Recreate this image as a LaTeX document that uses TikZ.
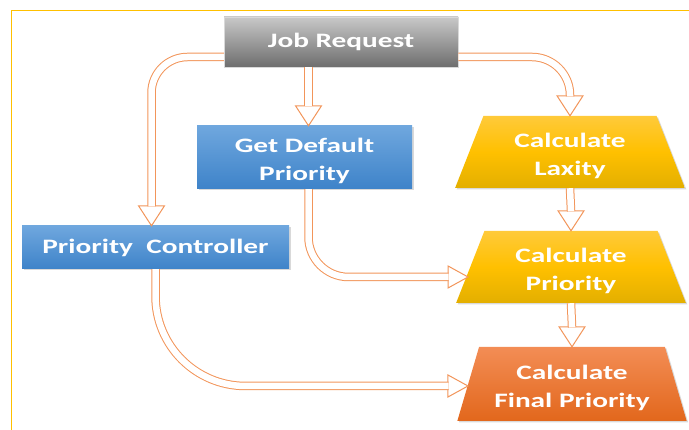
\documentclass[tikz,border=0pt]{standalone}
\usepackage{fontspec}
\setmainfont{Carlito}[FakeStretch=1.43]
\usetikzlibrary{shapes.geometric,shadows}
\definecolor{pipeorange}{HTML}{F2955A}
\definecolor{frameyellow}{HTML}{FFC000}
\definecolor{jobtop}{HTML}{C8C8C8}
\definecolor{jobbot}{HTML}{6E6E6E}
\definecolor{bluetop}{HTML}{6FA7DE}
\definecolor{bluebot}{HTML}{3E83C9}
\definecolor{yeltop}{HTML}{FFCA3A}
\definecolor{yelmid}{HTML}{FFC000}
\definecolor{yelbot}{HTML}{E3AF00}
\definecolor{orgtop}{HTML}{F38D55}
\definecolor{orgbot}{HTML}{E2671C}

\begin{document}
\begin{tikzpicture}[x=1pt,y=1pt,
		boxtext/.style={text=white,font=\fontsize{20.5}{28}\selectfont\bfseries,align=center,inner sep=0pt},
		lowtext/.style={text height=49.5pt},
		dropshade/.style={drop shadow={shadow xshift=1.5pt,shadow yshift=-1.5pt,opacity=0.3}},
		greybox/.style={boxtext,rectangle,top color=jobtop,bottom color=jobbot,draw=black!15,line width=0.5pt},
		bluebox/.style={boxtext,dropshade,rectangle,top color=bluetop,bottom color=bluebot},
		calcbox/.style={boxtext,lowtext,dropshade,trapezium,trapezium stretches=true,trapezium left angle=71,trapezium right angle=71,minimum width=230pt},
		yellowfill/.style={top color=yeltop,bottom color=yelbot,middle color=yelmid},
		orangefill/.style={top color=orgtop,bottom color=orgbot},
		pipe/.style={draw=pipeorange,line width=1pt,double=white,double distance=6.5pt,shorten >=-0.6pt},
		tipdown/.pic={\draw[pipeorange,line width=1pt,fill=white] (0,0) -- (-13,20) -- (13,20) -- cycle;},
		tipright/.pic={\draw[pipeorange,line width=1pt,fill=white] (0,0) -- (-20,11) -- (-20,-11) -- cycle;}
	]
				\useasboundingbox (0,0) rectangle (689,430);
				\draw[frameyellow,line width=1pt] (11,0) -- (11,419) -- (689,419);

				\node[greybox,minimum width=234pt,minimum height=50pt] (job) at (341,388) {Job Request};
				\node[bluebox,lowtext,minimum width=215pt,minimum height=63pt] (gdp) at (304.5,272.5) {Get Default\\Priority};
				\node[bluebox,minimum width=267pt,minimum height=43pt] (pc) at (155.5,182.5) {Priority~ Controller};
				\node[calcbox,yellowfill,minimum height=72pt] (lax) at (570,278) {Calculate\\Laxity};
				\node[calcbox,yellowfill,minimum height=72pt] (cpr) at (571,163) {Calculate\\Priority};
				\node[calcbox,orangefill,minimum height=74pt] (cfp) at (572,46) {Calculate\\Final Priority};

				\pic at ([xshift=-4pt]pc.north) {tipdown};
				\draw[pipe,rounded corners=36pt] ([yshift=-15pt]job.west) -| ([xshift=-4pt,yshift=20pt]pc.north);

				\pic at ([xshift=4pt]gdp.north) {tipdown};
				\draw[pipe] ([xshift=4pt]gdp.north |- job.south) -- ([xshift=4pt,yshift=20pt]gdp.north);

				\pic at (lax.north) {tipdown};
				\draw[pipe,rounded corners=38pt] ([yshift=-15pt]job.east) -| ([yshift=20pt]lax.north);

				\pic at ([xshift=-2pt,yshift=-10pt]cpr.west) {tipright};
				\draw[pipe,rounded corners=40pt] ([xshift=4pt]gdp.south) |- ([xshift=-22pt,yshift=-10pt]cpr.west);

				\pic at (cpr.north) {tipdown};
				\draw[pipe] (lax.south) -- ([yshift=20pt]cpr.north);

				\pic at ([yshift=-2pt]cfp.west) {tipright};
				\draw[pipe,rounded corners=90pt] (pc.south) |- ([xshift=-20pt,yshift=-2pt]cfp.west);

				\pic at (cfp.north) {tipdown};
				\draw[pipe] (cpr.south) -- ([yshift=20pt]cfp.north);
			\end{tikzpicture}
\end{document}
